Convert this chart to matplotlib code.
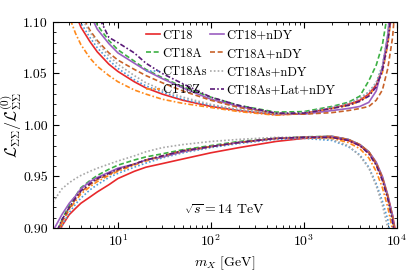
import matplotlib
matplotlib.use("Agg")
import matplotlib.pyplot as plt
from matplotlib.ticker import MultipleLocator, LogLocator, NullFormatter

plt.rcParams['font.family'] = 'serif'
plt.rcParams['font.serif'] = ['cmr10']
plt.rcParams['mathtext.fontset'] = 'cm'
plt.rcParams['axes.formatter.use_mathtext'] = True

# m_X grid (GeV)
mx = [2, 2.5, 3, 3.5, 4, 5, 6, 8, 10, 15, 20, 30, 50, 100, 200, 500,
      1000, 2000, 3000, 4000, 5000, 6000, 7000, 8000, 9000, 10000]

# upper edge of the error band
ct18_hi    = [1.19, 1.153, 1.126, 1.108, 1.095, 1.081, 1.071, 1.059, 1.052, 1.042, 1.036, 1.030, 1.024, 1.018, 1.014, 1.010, 1.011, 1.0165, 1.020, 1.024, 1.030, 1.039, 1.055, 1.083, 1.12, 1.20]
ct18a_hi   = [1.25, 1.21, 1.18, 1.158, 1.14, 1.115, 1.097, 1.082, 1.073, 1.062, 1.054, 1.046, 1.037, 1.027, 1.019, 1.0125, 1.013, 1.018, 1.022, 1.028, 1.043, 1.058, 1.078, 1.11, 1.16, 1.25]
ct18as_hi  = [1.20, 1.16, 1.132, 1.113, 1.099, 1.085, 1.075, 1.063, 1.055, 1.044, 1.038, 1.032, 1.025, 1.019, 1.0145, 1.0105, 1.012, 1.017, 1.021, 1.026, 1.032, 1.041, 1.058, 1.086, 1.13, 1.21]
ct18z_hi   = [1.165, 1.13, 1.105, 1.089, 1.078, 1.065, 1.057, 1.048, 1.042, 1.034, 1.030, 1.025, 1.021, 1.017, 1.013, 1.0095, 1.011, 1.016, 1.019, 1.023, 1.029, 1.037, 1.051, 1.078, 1.115, 1.19]
ct18n_hi   = [1.24, 1.20, 1.17, 1.148, 1.131, 1.108, 1.093, 1.079, 1.070, 1.060, 1.053, 1.045, 1.036, 1.025, 1.018, 1.011, 1.0105, 1.014, 1.016, 1.018, 1.022, 1.033, 1.056, 1.088, 1.14, 1.22]
ct18an_hi  = [1.20, 1.165, 1.14, 1.122, 1.108, 1.092, 1.082, 1.070, 1.063, 1.054, 1.048, 1.041, 1.033, 1.024, 1.017, 1.011, 1.0105, 1.012, 1.014, 1.016, 1.018, 1.024, 1.034, 1.055, 1.085, 1.135]
ct18asn_hi = [1.21, 1.17, 1.14, 1.12, 1.105, 1.09, 1.080, 1.067, 1.059, 1.048, 1.041, 1.034, 1.027, 1.020, 1.015, 1.011, 1.012, 1.017, 1.021, 1.026, 1.032, 1.041, 1.057, 1.085, 1.13, 1.21]
ct18asl_hi = [1.29, 1.245, 1.21, 1.185, 1.165, 1.135, 1.108, 1.085, 1.080, 1.070, 1.060, 1.050, 1.040, 1.027, 1.019, 1.0115, 1.0115, 1.016, 1.019, 1.023, 1.028, 1.037, 1.053, 1.08, 1.12, 1.20]

# lower edge of the error band
ct18_lo    = [0.875, 0.902, 0.913, 0.919, 0.924, 0.930, 0.935, 0.942, 0.948, 0.955, 0.959, 0.9625, 0.967, 0.973, 0.978, 0.984, 0.987, 0.988, 0.985, 0.980, 0.973, 0.962, 0.948, 0.930, 0.912, 0.89]
ct18a_lo   = [0.885, 0.908, 0.922, 0.931, 0.939, 0.946, 0.951, 0.957, 0.961, 0.966, 0.969, 0.972, 0.976, 0.980, 0.984, 0.987, 0.9885, 0.989, 0.986, 0.981, 0.974, 0.963, 0.949, 0.931, 0.91, 0.88]
ct18as_lo  = [0.878, 0.902, 0.915, 0.923, 0.929, 0.937, 0.942, 0.949, 0.953, 0.959, 0.963, 0.968, 0.973, 0.978, 0.982, 0.986, 0.987, 0.985, 0.979, 0.971, 0.959, 0.943, 0.926, 0.908, 0.88, 0.84]
ct18z_lo   = [0.882, 0.905, 0.918, 0.926, 0.933, 0.940, 0.945, 0.951, 0.955, 0.961, 0.965, 0.969, 0.974, 0.979, 0.983, 0.987, 0.988, 0.987, 0.983, 0.977, 0.968, 0.955, 0.939, 0.920, 0.898, 0.87]
ct18n_lo   = [0.897, 0.913, 0.924, 0.931, 0.938, 0.945, 0.949, 0.954, 0.958, 0.962, 0.966, 0.969, 0.974, 0.979, 0.983, 0.987, 0.988, 0.989, 0.986, 0.981, 0.974, 0.964, 0.950, 0.932, 0.912, 0.88]
ct18an_lo  = [0.885, 0.906, 0.919, 0.928, 0.935, 0.942, 0.947, 0.952, 0.956, 0.962, 0.966, 0.970, 0.975, 0.979, 0.983, 0.987, 0.988, 0.989, 0.986, 0.981, 0.974, 0.963, 0.949, 0.931, 0.91, 0.88]
ct18asn_lo = [0.925, 0.938, 0.944, 0.948, 0.951, 0.955, 0.958, 0.962, 0.965, 0.970, 0.974, 0.978, 0.981, 0.984, 0.986, 0.988, 0.988, 0.986, 0.980, 0.970, 0.958, 0.941, 0.922, 0.900, 0.87, 0.82]
ct18asl_lo = [0.888, 0.908, 0.920, 0.929, 0.936, 0.943, 0.948, 0.953, 0.957, 0.962, 0.966, 0.970, 0.975, 0.979, 0.983, 0.987, 0.988, 0.988, 0.985, 0.980, 0.972, 0.961, 0.946, 0.928, 0.906, 0.875]

# label, upper, lower, colour, dash pattern (None = solid)
series = [
    ("CT18",           ct18_hi,    ct18_lo,    '#e8282b', None),
    ("CT18A",          ct18a_hi,   ct18a_lo,   '#3cb043', (3, 1.6)),
    ("CT18As",         ct18as_hi,  ct18as_lo,  '#4f9bd9', (1, 1.3)),
    ("CT18Z",          ct18z_hi,   ct18z_lo,   '#ff8a1c', (3, 1.3, 1, 1.3)),
    ("CT18+nDY",       ct18n_hi,   ct18n_lo,   '#9b5fc0', None),
    ("CT18A+nDY",      ct18an_hi,  ct18an_lo,  '#c8622a', (3, 1.6)),
    ("CT18As+nDY",     ct18asn_hi, ct18asn_lo, '#a8a8a8', (1, 1.3)),
    ("CT18As+Lat+nDY", ct18asl_hi, ct18asl_lo, '#5a1a78', (3, 1.3, 1, 1.3)),
]

fig = plt.figure(figsize=(4.07, 2.75), dpi=100)
ax = fig.add_axes([0.130, 0.171, 0.845, 0.749])

for label, hi, lo, col, dash in series:
    kw = dict(color=col, lw=1.2)
    if dash is not None:
        kw['dashes'] = dash
    ax.plot(mx, hi, label=label, **kw)
    ax.plot(mx, lo, **kw)

ax.set_xscale('log')
ax.set_xlim(2, 1e4)
ax.set_ylim(0.90, 1.10)
ax.yaxis.set_major_locator(MultipleLocator(0.05))
ax.yaxis.set_minor_locator(MultipleLocator(0.01))
ax.yaxis.set_major_formatter(plt.FormatStrFormatter('%.2f'))
ax.xaxis.set_minor_locator(LogLocator(base=10, subs=range(2, 10)))
ax.xaxis.set_minor_formatter(NullFormatter())
ax.tick_params(which='both', direction='in', top=True, right=True, labelsize=10)
ax.tick_params(which='major', length=4, width=0.8)
ax.tick_params(which='minor', length=2, width=0.6)

ax.set_xlabel(r'$m_X$ [GeV]', fontsize=10)
ax.set_ylabel(r'$\mathcal{L}_{\Sigma\Sigma}/\mathcal{L}^{(0)}_{\Sigma\Sigma}$', fontsize=11.5,
              va='center')
ax.yaxis.set_label_coords(-0.12, 0.5)

ax.text(0.497, 0.087, r'$\sqrt{s}=14$ TeV', transform=ax.transAxes,
        ha='center', va='center', fontsize=10)

handles, labels = ax.get_legend_handles_labels()
ax.legend(handles, labels, ncol=2, loc='upper left', bbox_to_anchor=(0.25, 1.0),
          frameon=False, fontsize=9, handlelength=1.1, handletextpad=0.15,
          columnspacing=0.3, labelspacing=0.48, borderaxespad=0.2)

fig.savefig('out.png', dpi=100)
